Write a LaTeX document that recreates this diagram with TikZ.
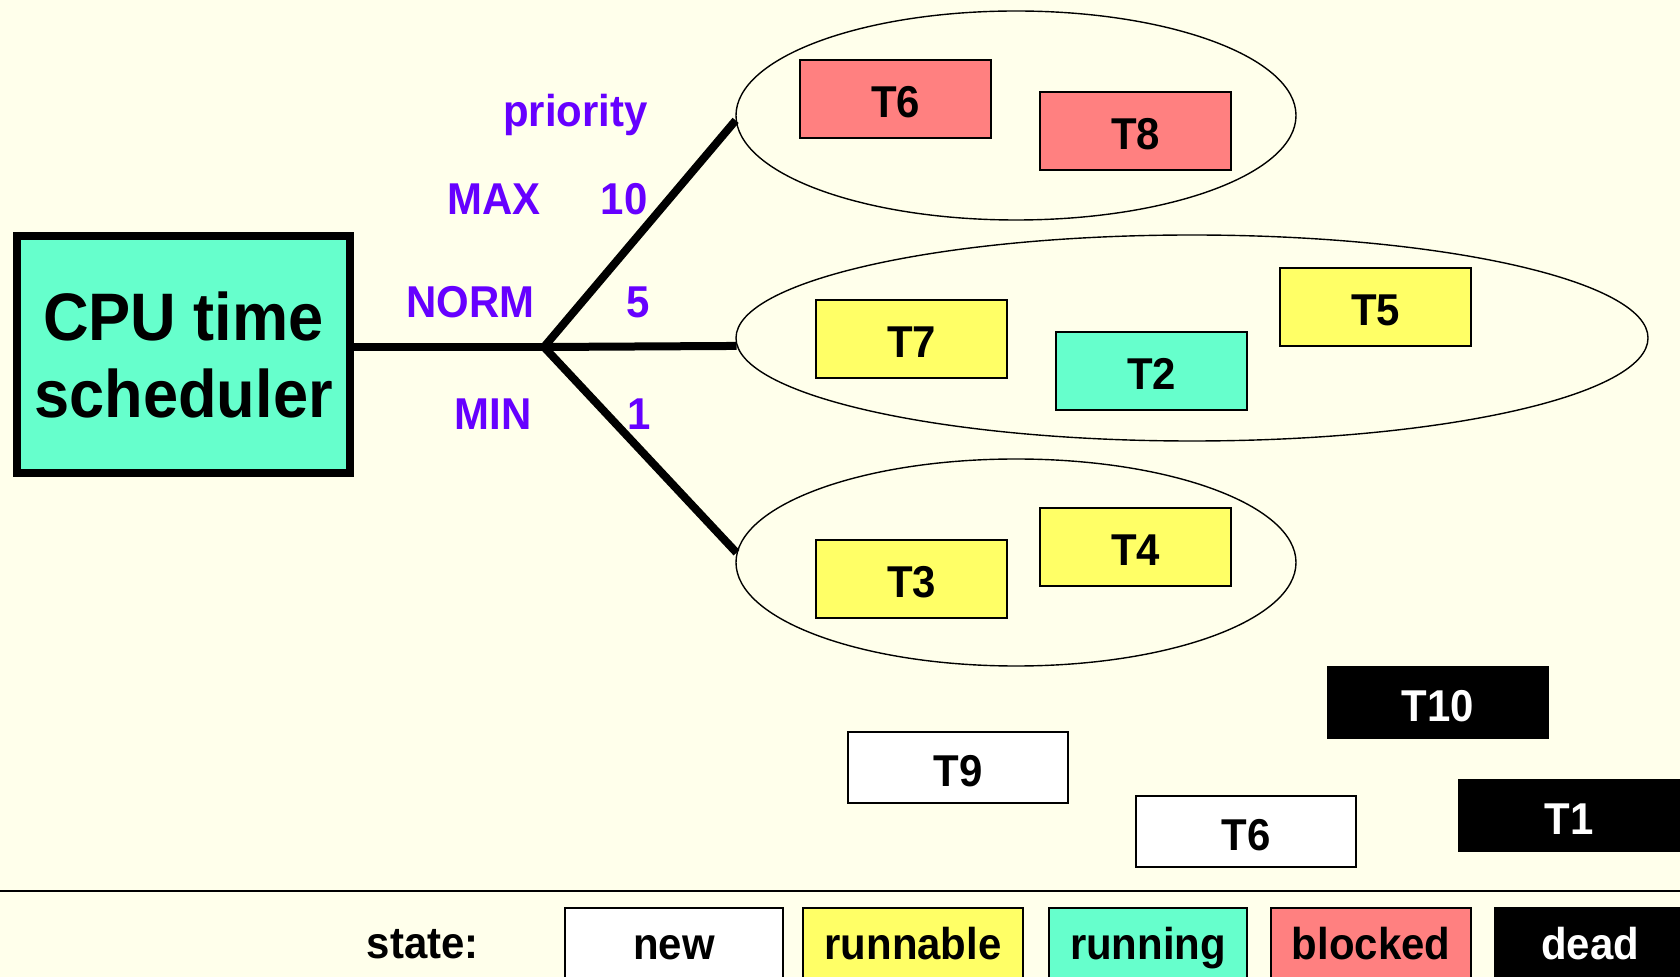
\documentclass[tikz,border=0pt]{standalone}
\usepackage{fontspec}
\setmainfont{Liberation Sans}[FakeStretch=0.94]
\usetikzlibrary{shapes.geometric}

\definecolor{paper}{RGB}{255,255,235}
\definecolor{blockedc}{RGB}{255,128,128}
\definecolor{runnablec}{RGB}{255,255,102}
\definecolor{runningc}{RGB}{102,255,204}
\definecolor{prioc}{RGB}{102,0,255}

\begin{document}
\begin{tikzpicture}[x=0.5pt,y=-0.5pt,
  txt/.style={font=\fontsize{22.3}{26}\selectfont\bfseries},
  prio/.style={txt, text=prioc, inner sep=0, anchor=base east},
  task/.style={draw, line width=1pt, inner sep=0, txt,
               text height=18.7pt, text depth=0pt,
               minimum width=95.5pt, minimum height=39pt},
  oldtask/.style={draw, line width=1pt, inner sep=0, txt,
               text height=18.5pt, text depth=0pt,
               minimum width=110pt, minimum height=35.5pt},
  blocked/.style={task, fill=blockedc},
  runnable/.style={task, fill=runnablec},
  running/.style={task, fill=runningc},
  newtask/.style={oldtask, fill=white},
  deadtask/.style={oldtask, fill=black, text=white},
  queue/.style={draw, ellipse, line width=0.7pt, inner sep=0},
  branch/.style={line width=4pt},
  legend/.style={draw, line width=1pt, inner sep=0, txt, anchor=north,
                 text height=25.5pt, text depth=20pt},
]
\clip (0,0) rectangle (1680,977);
\fill[paper] (0,0) rectangle (1680,977);

% scheduler
\node[draw, line width=4pt, fill=runningc, minimum width=166.5pt,
      minimum height=118.5pt, inner sep=0, align=center,
      font=\fontsize{33.6}{38.5}\selectfont\bfseries]
  (cpu) at (183.5,354.5) {CPU time\\scheduler};

% priority queues
\node[queue, minimum width=280pt, minimum height=104.5pt] (qmax) at (1016,115.5) {};
\node[queue, minimum width=456pt, minimum height=103pt] (qnorm) at (1192,338) {};
\node[queue, minimum width=280pt, minimum height=103.5pt] (qmin) at (1016,562.5) {};

% branches from the scheduler to the queues
\coordinate (J) at (544,347);
\draw[branch] (J -| cpu.east) -- (J);
\draw[branch] (J) -- (qmax.181.5);
\draw[branch] (J) -- (qnorm.181.1);
\draw[branch] (J) -- (qmin.178.5);

% priority labels
\node[prio] (lprio) at (648,127) {priority};
\node[prio] (lmax)  at (541,215) {MAX};
\node[prio] (l10)   at (648,215) {10};
\node[prio] (lnorm) at (535,318) {NORM};
\node[prio] (l5)    at (650,318) {5};
\node[prio] (lmin)  at (532,430) {MIN};
\node[prio] (l1)    at (651,430) {1};

% threads in the queues
\node[blocked]  (t6)  at (895.5,99)   {T6};
\node[blocked]  (t8)  at (1135.5,131) {T8};
\node[runnable] (t7)  at (911.5,339)  {T7};
\node[running]  (t2)  at (1151.5,371) {T2};
\node[runnable] (t5)  at (1375.5,307) {T5};
\node[runnable] (t3)  at (911.5,579)  {T3};
\node[runnable] (t4)  at (1135.5,547) {T4};

% threads outside the queues
\node[deadtask] (t10) at (1437.5,702.5) {T10};
\node[newtask]  (t9)  at (958,767.5)    {T9};
\node[newtask]  (t6n) at (1246,831.5)   {T6};
\node[deadtask] (t1)  at (1569,815.5)   {T1};

% legend
\draw[line width=1.25pt] (0,891) -- (1680,891);
\node[txt, inner sep=0, anchor=base east] (state) at (479,958) {state:};
\node[legend, fill=white,      minimum width=109pt]   (snew)  at (674,907)  {new};
\node[legend, fill=runnablec,  minimum width=109.75pt] (srun) at (913,907)  {runnable};
\node[legend, fill=runningc,   minimum width=99pt]    (sexec) at (1148,907) {running};
\node[legend, fill=blockedc,   minimum width=100pt]   (sblk)  at (1371,907) {blocked};
\node[legend, fill=black, text=white, minimum width=95pt] (sdead) at (1590,907) {dead};
\end{tikzpicture}
\end{document}
